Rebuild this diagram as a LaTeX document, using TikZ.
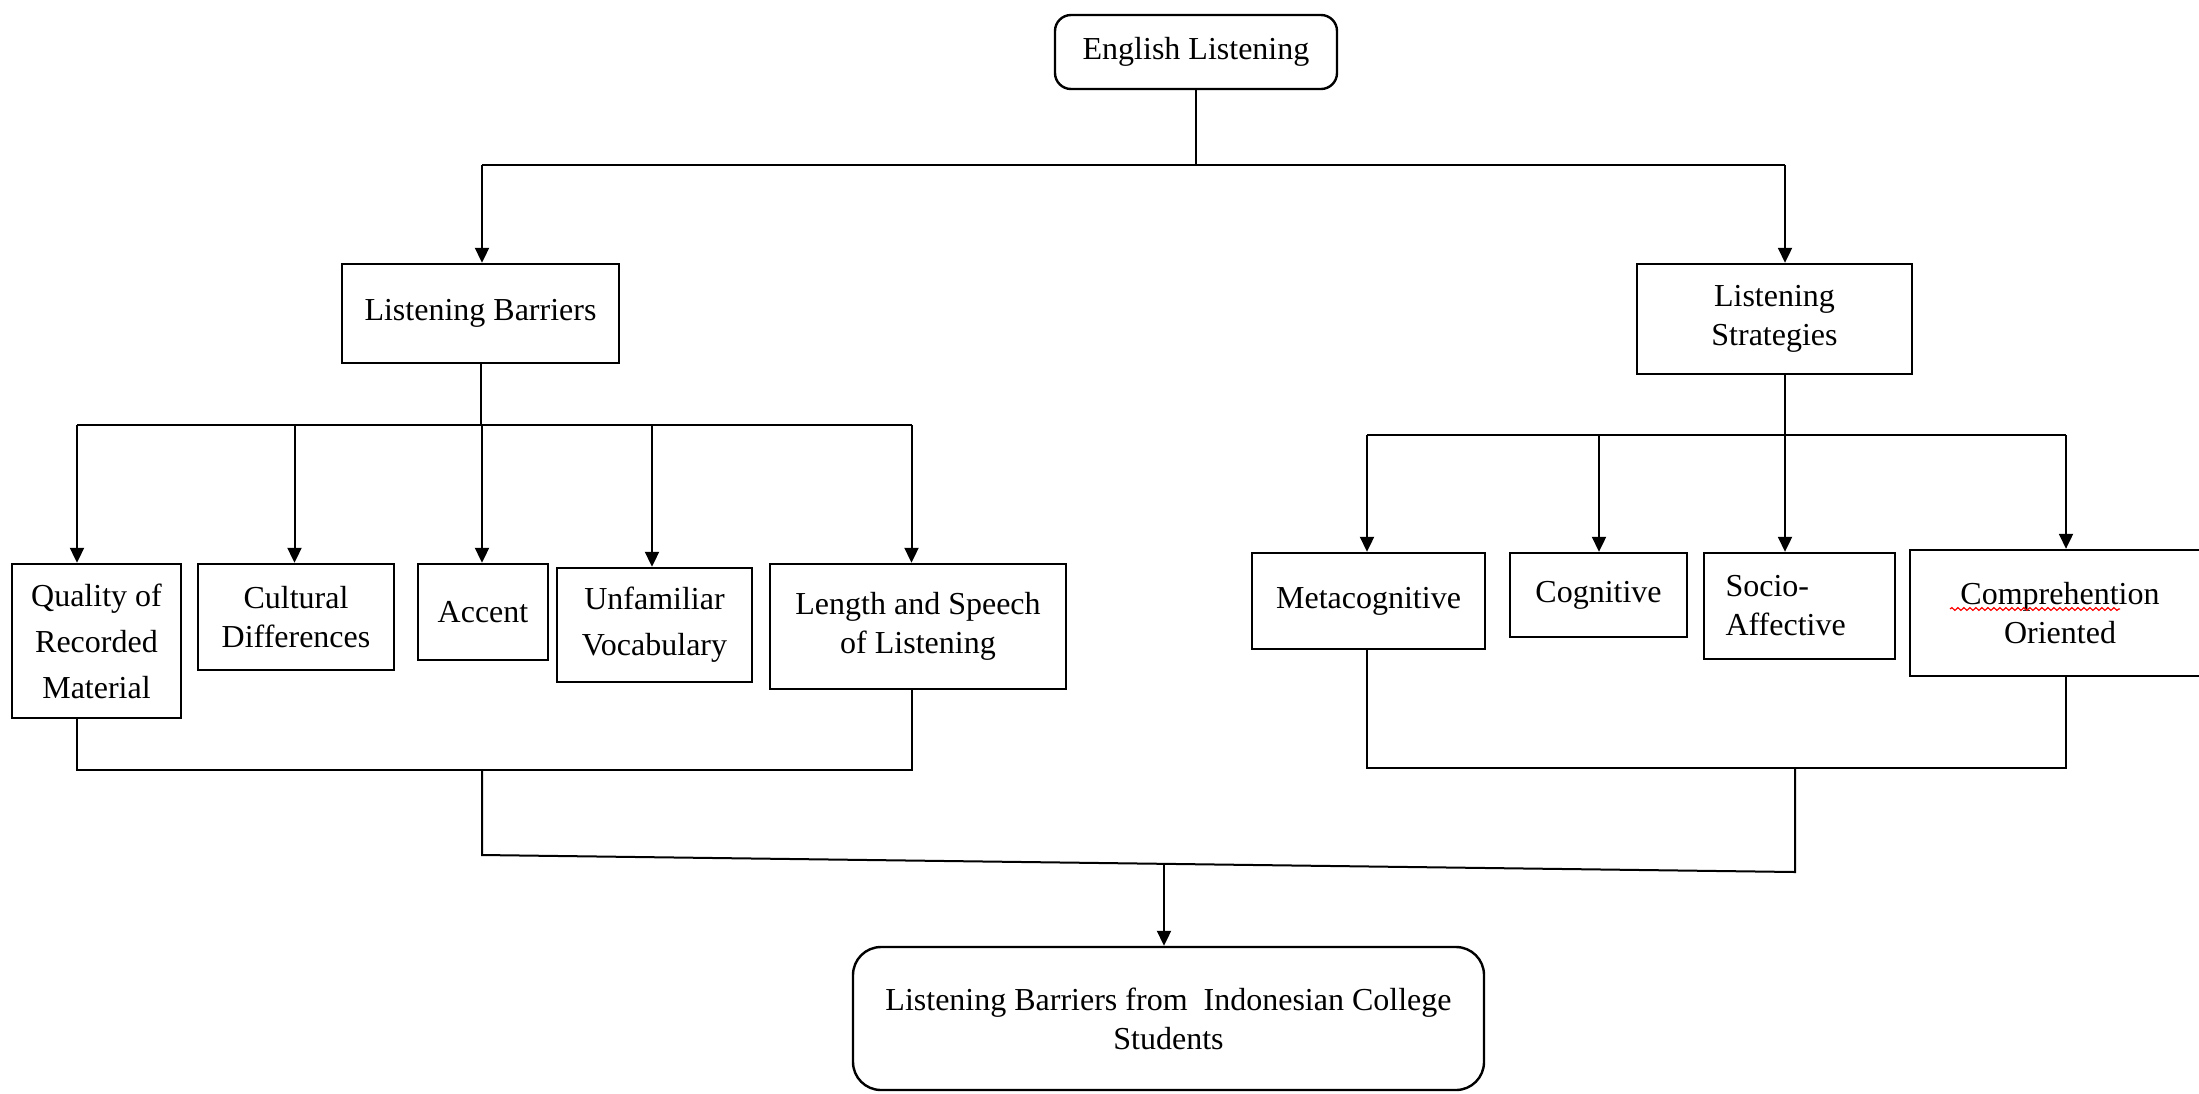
\documentclass[tikz,border=0pt]{standalone}
\usepackage{fontspec}
\setmainfont{Liberation Serif}
\usetikzlibrary{arrows.meta,decorations.pathmorphing}
\begin{document}
\begin{tikzpicture}[x=0.5pt,y=-0.5pt,
  box/.style 2 args={draw,line width=1.2pt,inner sep=0pt,align=center,
    minimum width=#1*0.5pt,minimum height=#2*0.5pt,
    font=\fontsize{16}{19.5}\selectfont},
  ln/.style={line width=1pt},
  arr/.style={line width=1pt,-{Triangle[length=7.5pt,width=7pt]}}]
\useasboundingbox[fill=white] (0,0) rectangle (2199,1093);
% nodes
\node[box={282}{74},rounded corners=8pt] (el) at (1196,52) {English Listening};
\node[box={277}{99}] (lb) at (480.5,313.5) {Listening Barriers};
\node[box={275}{110}] (ls) at (1774.5,319) {Listening\\Strategies};
\node[box={169}{154},font=\fontsize{16}{23}\selectfont] (q) at (96.5,641) {Quality of\\Recorded\\Material};
\node[box={196}{106}] (cd) at (296,617) {Cultural\\Differences};
\node[box={130}{96}] (ac) at (483,612) {Accent};
\node[box={195}{114},font=\fontsize{16}{23}\selectfont] (uv) at (654.5,625) {Unfamiliar\\Vocabulary};
\node[box={296}{125}] (lsp) at (918,626.5) {Length and Speech\\of Listening};
\node[box={233}{96}] (mc) at (1368.5,601) {Metacognitive};
\node[box={177}{84}] (cg) at (1598.5,595) {Cognitive};
\node[box={191}{106},align=left,text width=74pt] (sa) at (1799.5,606) {Socio-\\Affective};
\node[box={300}{126}] (co) at (2060,613) {Comprehention\\Oriented};
\node[box={631}{143},rounded corners=14pt] (fin) at (1168.5,1018.5) {Listening Barriers from\ \ Indonesian College\\Students};
% spell-check underline
\draw[red,line width=0.6pt,decorate,decoration={snake,segment length=3pt,amplitude=0.7pt}] (1950,609) -- (2120,609);
% top level
\coordinate (hL) at (482,165);
\coordinate (hR) at (1785,165);
\draw[ln] (el.south) -- (el.south |- hL);
\draw[ln] (hL) -- (hR);
\draw[arr] (hL) -- (hL |- lb.north);
\draw[arr] (hR) -- (hR |- ls.north);
% left branch
\coordinate (b1) at (77,425);
\coordinate (b2) at (294.5,425);
\coordinate (b3) at (482,425);
\coordinate (b4) at (652,425);
\coordinate (b5) at (911.5,425);
\draw[ln] (lb.south) -- (lb.south |- b3);
\draw[ln] (b1) -- (b5);
\draw[arr] (b1) -- (b1 |- q.north);
\draw[arr] (b2) -- (b2 |- cd.north);
\draw[arr] (b3) -- (b3 |- ac.north);
\draw[arr] (b4) -- (b4 |- uv.north);
\draw[arr] (b5) -- (b5 |- lsp.north);
% right branch
\coordinate (r1) at (1367,435);
\coordinate (r2) at (1599,435);
\coordinate (r3) at (1785,435);
\coordinate (r4) at (2066,435);
\draw[ln] (ls.south -| r3) -- (r3);
\draw[ln] (r1) -- (r4);
\draw[arr] (r1) -- (r1 |- mc.north);
\draw[arr] (r2) -- (r2 |- cg.north);
\draw[arr] (r3) -- (r3 |- sa.north);
\draw[arr] (r4) -- (r4 |- co.north);
% bottom joins
\coordinate (d1) at (77,770);
\coordinate (d3) at (482,770);
\coordinate (d5) at (911.5,770);
\draw[ln] (q.south -| d1) -- (d1) -- (d5) -- (lsp.south -| d5);
\coordinate (e1) at (1367,768);
\coordinate (e3) at (1795,768);
\coordinate (e4) at (2066,768);
\draw[ln] (mc.south -| e1) -- (e1) -- (e4) -- (co.south -| e4);
\coordinate (f1) at (482,855);
\coordinate (f2) at (1795,872);
\draw[ln] (d3) -- (f1) -- (f2) -- (e3);
\coordinate (g) at (1164,863);
\draw[arr] (g) -- (g |- fin.north);
\end{tikzpicture}
\end{document}
